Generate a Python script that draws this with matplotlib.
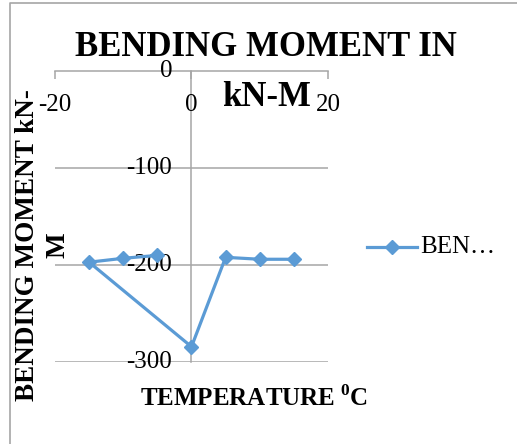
import matplotlib.pyplot as plt
from matplotlib.lines import Line2D

plt.rcParams['font.family'] = 'Liberation Serif'
plt.rcParams['mathtext.fontset'] = 'custom'
plt.rcParams['mathtext.rm'] = 'Liberation Serif'
plt.rcParams['mathtext.bf'] = 'Liberation Serif:bold'
plt.rcParams['axes.unicode_minus'] = False

# temperature (deg C) and bending moment (kN-m), in the order of the series
temperature = [-5, -10, -15, 0, 5, 10, 15]
moment = [-190, -193, -197, -284, -192, -194, -194]
x_ticks = [-20, 0, 20]
y_ticks = [0, -100, -200, -300]

blue = '#5b9bd5'
grey = '#a6a6a6'

fig = plt.figure(figsize=(5.17, 4.44), dpi=100)
ax = fig.add_axes([0.1064, 0.184, 0.528, 0.6568])

ax.plot(temperature, moment, color=blue, linewidth=2.3, marker='D', markersize=7.5)

ax.set_xlim(-20, 20)
ax.set_ylim(-300, 0)

# axes cross at the origin
for s in ['top', 'right']:
    ax.spines[s].set_visible(False)
ax.spines['bottom'].set_position(('data', 0))
ax.spines['left'].set_position(('data', 0))
for s in ['bottom', 'left']:
    ax.spines[s].set_color(grey)
    ax.spines[s].set_linewidth(1.1)
    ax.spines[s].set_zorder(0.5)

ax.set_xticks(x_ticks)
ax.set_yticks(y_ticks)
ax.tick_params(axis='x', direction='out', length=6, width=1.1, color=grey,
               pad=11, labelsize=18)
ax.tick_params(axis='y', length=0, pad=14, labelsize=18)
for lab in ax.get_yticklabels():
    lab.set_verticalalignment('center')

for v in y_ticks[1:]:
    ax.axhline(v, color=grey, linewidth=1.1, zorder=0.5)

# titles
fig.text(0.515, 0.892, 'BENDING MOMENT IN', fontsize=25, fontweight='bold',
         ha='center', va='center')
fig.text(0.516, 0.78, 'kN-M', fontsize=25, fontweight='bold',
         ha='center', va='center')
fig.text(0.054, 0.448, 'BENDING MOMENT kN-', fontsize=19.5, fontweight='bold',
         rotation=90, ha='center', va='center')
fig.text(0.112, 0.448, 'M', fontsize=19.5, fontweight='bold',
         rotation=90, ha='center', va='center')
fig.text(0.492, 0.104, r'TEMPERATURE $^{\mathbf{0}}$C', fontsize=18,
         fontweight='bold', ha='center', va='center')

# legend
fig.add_artist(Line2D([0.71, 0.806], [0.444, 0.444], color=blue, linewidth=2.3))
fig.add_artist(Line2D([0.758], [0.444], color=blue, marker='D', markersize=7.5))
fig.text(0.813, 0.444, 'BEN\u2026', fontsize=18, ha='left', va='center')

# chart frame
fig.add_artist(Line2D([0.0195, 0.0195, 1.0], [0.0, 0.993, 0.993], color=grey,
                      linewidth=1.2))

fig.savefig('out.png', dpi=100)
